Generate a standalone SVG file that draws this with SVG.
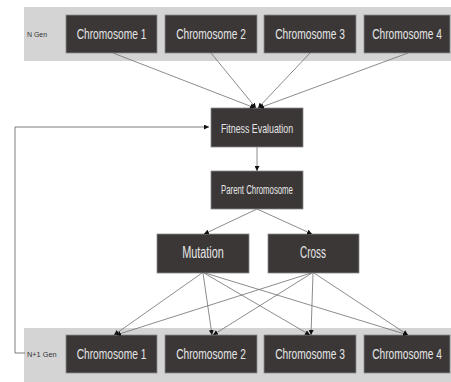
<svg xmlns="http://www.w3.org/2000/svg" width="451" height="382" viewBox="0 0 451 382">
<defs>
<marker id="ah" viewBox="0 0 8 8" refX="8" refY="4" markerWidth="5" markerHeight="5" orient="auto" markerUnits="userSpaceOnUse">
<path d="M0,0 L8,4 L0,8 z" fill="#111"/>
</marker>
<style>
.band{fill:#d4d4d4}
.box{fill:#3b3737;stroke:#8a8a8a;stroke-width:0.8}
.t{font-family:"Liberation Sans",Arial,sans-serif;fill:#e6e6e6;text-anchor:middle;dominant-baseline:central}
.ch{font-size:15px}
.lbl{font-family:"Liberation Sans",Arial,sans-serif;fill:#333;font-size:8px;dominant-baseline:central}
.c{stroke:#6e6e6e;stroke-width:0.8;fill:none;marker-end:url(#ah)}
.loop{stroke:#6e6e6e;stroke-width:0.9;fill:none}
</style>
</defs>
<rect class="band" x="24" y="7" width="427" height="54"/>
<rect class="band" x="24" y="328" width="427" height="54"/>
<text class="lbl" transform="translate(27,34) scale(0.87,1)">N Gen</text>
<text class="lbl" transform="translate(27,354) scale(0.92,1)">N+1 Gen</text>
<g id="n-gen-1"><rect class="box" x="66" y="15" width="91" height="38"/><text class="t ch" transform="translate(111.5,34) scale(0.68,1)">Chromosome 1</text></g>
<g id="n-gen-2"><rect class="box" x="165" y="15" width="92" height="38"/><text class="t ch" transform="translate(211,34) scale(0.68,1)">Chromosome 2</text></g>
<g id="n-gen-3"><rect class="box" x="264" y="15" width="92" height="38"/><text class="t ch" transform="translate(310,34) scale(0.68,1)">Chromosome 3</text></g>
<g id="n-gen-4"><rect class="box" x="364" y="15" width="86" height="38"/><text class="t ch" transform="translate(407,34) scale(0.68,1)">Chromosome 4</text></g>
<g id="fitness"><rect class="box" x="211" y="108" width="92" height="39"/><text class="t" font-size="13" transform="translate(257,128) scale(0.68,1)">Fitness Evaluation</text></g>
<g id="parent"><rect class="box" x="211" y="171" width="92" height="38"/><text class="t" font-size="12" transform="translate(257,190) scale(0.65,1)">Parent Chromosome</text></g>
<g id="mutation"><rect class="box" x="157" y="234" width="92" height="39"/><text class="t" font-size="16" transform="translate(203,253) scale(0.68,1)">Mutation</text></g>
<g id="cross"><rect class="box" x="268" y="234" width="91" height="39"/><text class="t" font-size="16" transform="translate(313,253) scale(0.62,1)">Cross</text></g>
<g id="n1-gen-1"><rect class="box" x="66" y="335" width="91" height="38"/><text class="t ch" transform="translate(111.5,354) scale(0.68,1)">Chromosome 1</text></g>
<g id="n1-gen-2"><rect class="box" x="165" y="335" width="92" height="38"/><text class="t ch" transform="translate(211,354) scale(0.68,1)">Chromosome 2</text></g>
<g id="n1-gen-3"><rect class="box" x="264" y="335" width="92" height="38"/><text class="t ch" transform="translate(310,354) scale(0.68,1)">Chromosome 3</text></g>
<g id="n1-gen-4"><rect class="box" x="364" y="335" width="86" height="38"/><text class="t ch" transform="translate(407,354) scale(0.68,1)">Chromosome 4</text></g>
<g id="connectors">
<line class="c" x1="113" y1="53" x2="255" y2="108"/>
<line class="c" x1="211" y1="53" x2="256" y2="108"/>
<line class="c" x1="310" y1="53" x2="258" y2="108"/>
<line class="c" x1="408" y1="53" x2="259" y2="108"/>
<line class="c" x1="257" y1="147" x2="257" y2="171"/>
<line class="c" x1="257" y1="209" x2="204" y2="234"/>
<line class="c" x1="257" y1="209" x2="312" y2="234"/>
<line class="c" x1="202" y1="273" x2="114" y2="335"/>
<line class="c" x1="203" y1="273" x2="212" y2="335"/>
<line class="c" x1="204" y1="273" x2="310" y2="335"/>
<line class="c" x1="205" y1="273" x2="408" y2="335"/>
<line class="c" x1="311" y1="273" x2="116" y2="335"/>
<line class="c" x1="312" y1="273" x2="213" y2="335"/>
<line class="c" x1="313" y1="273" x2="311" y2="335"/>
<line class="c" x1="314" y1="273" x2="408" y2="335"/>
<path class="loop" d="M25,353 H15 V127 H209" marker-end="url(#ah)"/>
</g>
</svg>
